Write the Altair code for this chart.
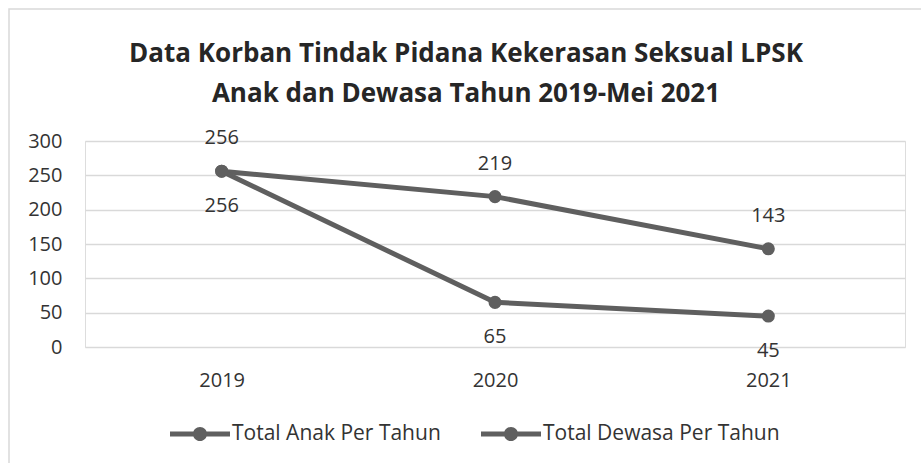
import altair as alt
import pandas as pd

years = ["2019", "2020", "2021"]
anak = [256, 219, 143]
dewasa = [256, 65, 45]
series_names = ["Total Anak Per Tahun", "Total Dewasa Per Tahun"]

rows = []
for s, vals, pos in [(series_names[0], anak, "above"), (series_names[1], dewasa, "below")]:
    for y, v in zip(years, vals):
        rows.append({"Tahun": y, "Jumlah": v, "Seri": s, "pos": pos})
df = pd.DataFrame(rows)

FONT = "Open Sans"
GRAY = "#5f5f5f"
TEXT = "#333333"

legend_symbol = ("M -2 -0.17 L 2 -0.17 L 2 0.17 L -2 0.17 Z "
                 "M 0.47 0 A 0.47 0.47 0 1 1 -0.47 0 A 0.47 0.47 0 1 1 0.47 0 Z")

x = alt.X("Tahun:N", sort=years, title=None,
          scale=alt.Scale(paddingInner=0, paddingOuter=0),
          axis=alt.Axis(labelAngle=0, labelFontSize=20, labelColor=TEXT, labelFont=FONT,
                        labelPadding=23, ticks=False, domain=False, grid=False))
y = alt.Y("Jumlah:Q", title=None,
          scale=alt.Scale(domain=[0, 300], nice=False),
          axis=alt.Axis(values=[0, 50, 100, 150, 200, 250, 300], labelFontSize=20,
                        labelColor=TEXT, labelFont=FONT, labelPadding=23, ticks=False,
                        domain=False, gridColor="#d9d9d9", gridWidth=1.5))
color = alt.Color("Seri:N", sort=series_names, title=None,
                  scale=alt.Scale(domain=series_names, range=[GRAY, GRAY]),
                  legend=alt.Legend(orient="none", legendX=100, legendY=278, direction="horizontal",
                                    symbolType=legend_symbol, symbolSize=900, symbolStrokeWidth=0,
                                    symbolFillColor=GRAY, labelFontSize=21, labelFont=FONT,
                                    labelColor=TEXT, labelOffset=17, labelLimit=0, columnPadding=40))

base = alt.Chart(df)
lines = base.mark_line(strokeWidth=5, color=GRAY).encode(x=x, y=y, color=color)
points = base.mark_point(filled=True, size=170, opacity=1, shape="circle").encode(
    x=x, y=y, color=alt.Color("Seri:N", legend=None, scale=alt.Scale(domain=series_names, range=[GRAY, GRAY])))
lab_above = base.transform_filter(alt.datum.pos == "above").mark_text(
    dy=-33, fontSize=20, font=FONT, color=TEXT).encode(x=x, y=y, text="Jumlah:Q")
lab_below = base.transform_filter(alt.datum.pos == "below").mark_text(
    dy=35, fontSize=20, font=FONT, color=TEXT).encode(x=x, y=y, text="Jumlah:Q")

frame = alt.Chart(pd.DataFrame({"a": [0]})).mark_rect(
    fill=None, stroke="#d9d9d9", strokeWidth=1.5).encode(
    x=alt.value(-76), x2=alt.value(840), y=alt.value(-132), y2=alt.value(330))

chart = alt.layer(frame, lines, points, lab_above, lab_below).properties(
    width=820, height=206,
    padding={"left": 85, "right": 16, "top": 141, "bottom": 116},
    autosize=alt.AutoSizeParams(type="none"),
    title=alt.TitleParams(
        ["Data Korban Tindak Pidana Kekerasan Seksual LPSK", "Anak dan Dewasa Tahun 2019-Mei 2021"],
        font=FONT, fontSize=26, fontWeight="bold", color="#262626",
        anchor="middle", dx=-29, offset=-99, lineHeight=40),
).configure_view(stroke=None).configure(background="white")

chart.save("out.html", embed_options={"renderer": "svg", "actions": False})
